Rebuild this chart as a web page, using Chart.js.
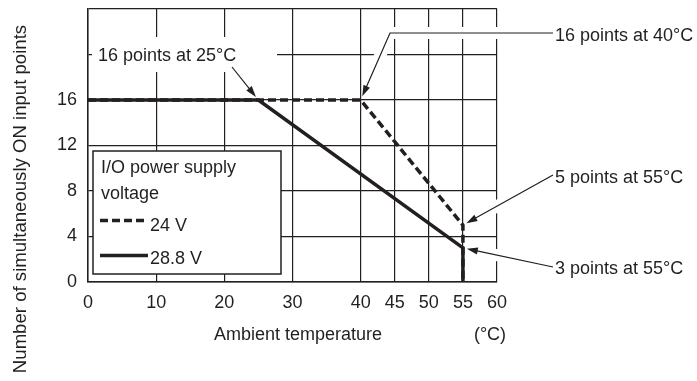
<!DOCTYPE html>
<html>
<head>
<meta charset="utf-8">
<script src="https://cdn.jsdelivr.net/npm/chart.js@4/dist/chart.umd.min.js"></script>
<style>
  html, body { margin: 0; padding: 0; background: #fff; }
  #wrap { width: 697px; height: 381px; }
</style>
</head>
<body>
<div id="wrap"><canvas id="myChart" width="697" height="381"></canvas></div>
<script>
// Derating curves: simultaneously ON input points vs ambient temperature
const temps24 = [0, 40, 55, 55];
const points24 = [16, 16, 5, 0];
const temps288 = [0, 25, 55, 55];
const points288 = [16, 16, 3, 0];

const xTicks = [0, 10, 20, 30, 40, 45, 50, 55, 60];
const yTicks = [0, 4, 8, 12, 16, 20, 24];
const yLabels = ['0', '4', '8', '12', '16', '', ''];

const INK = '#231f20';
const FAMILY = '"Liberation Sans", Arial, Helvetica, sans-serif';
const FONT = '18px ' + FAMILY;

const toXY = (xs, ys) => xs.map((v, i) => ({ x: v, y: ys[i] }));

// callout positions (label text + leader line), arrow tips come from the data
function callouts(chart) {
  const a = chart.chartArea;
  const tx = a.right + 58;
  const lx = a.right + 56;
  return [
    { text: '16 points at 25\u00b0C', tx: a.left + 10, ty: 61, path: [[232, 67]], at: [25, 16] },
    { text: '16 points at 40\u00b0C', tx: tx, ty: 41, path: [[lx, 33], [390, 33]], at: [40, 16] },
    { text: '5 points at 55\u00b0C', tx: tx, ty: 183, path: [[lx, 175]], at: [55, 5] },
    { text: '3 points at 55\u00b0C', tx: tx, ty: 274, path: [[lx, 267]], at: [55, 3] }
  ];
}

function tipOf(chart, c) {
  const { x, y } = chart.scales;
  const px = x.getPixelForValue(c.at[0]);
  const py = y.getPixelForValue(c.at[1]);
  const s = c.path[c.path.length - 1];
  const dx = px - s[0], dy = py - s[1];
  const len = Math.hypot(dx, dy);
  return { x: px - dx / len * 4, y: py - dy / len * 4, ux: dx / len, uy: dy / len };
}

const overlay = {
  id: 'overlay',
  beforeDatasetsDraw(chart) {
    const ctx = chart.ctx;
    const a = chart.chartArea;
    ctx.save();
    // white box behind the 25°C label
    ctx.fillStyle = '#fff';
    ctx.fillRect(a.left + 4, 37, 185, 35);

    callouts(chart).forEach(c => {
      const t = tipOf(chart, c);
      // halo that cuts the grid
      ctx.strokeStyle = '#fff';
      ctx.lineWidth = 12;
      ctx.lineCap = 'butt';
      ctx.beginPath();
      ctx.moveTo(c.path[0][0], c.path[0][1]);
      c.path.slice(1).forEach(p => ctx.lineTo(p[0], p[1]));
      ctx.lineTo(t.x - t.ux * 16, t.y - t.uy * 16);
      ctx.stroke();

      // leader line
      ctx.strokeStyle = INK;
      ctx.lineWidth = 1.2;
      ctx.beginPath();
      ctx.moveTo(c.path[0][0], c.path[0][1]);
      c.path.slice(1).forEach(p => ctx.lineTo(p[0], p[1]));
      ctx.lineTo(t.x - t.ux * 8, t.y - t.uy * 8);
      ctx.stroke();

      // arrow head
      const bx = t.x - t.ux * 11, by = t.y - t.uy * 11;
      ctx.fillStyle = INK;
      ctx.beginPath();
      ctx.moveTo(t.x, t.y);
      ctx.lineTo(bx - t.uy * 3.5, by + t.ux * 3.5);
      ctx.lineTo(bx + t.uy * 3.5, by - t.ux * 3.5);
      ctx.closePath();
      ctx.fill();
    });
    ctx.restore();
  },
  afterDraw(chart) {
    const ctx = chart.ctx;
    const a = chart.chartArea;
    ctx.save();
    ctx.fillStyle = INK;
    ctx.font = FONT;
    ctx.textBaseline = 'alphabetic';
    ctx.textAlign = 'left';

    callouts(chart).forEach(c => ctx.fillText(c.text, c.tx, c.ty));

    // axis titles
    ctx.textAlign = 'center';
    ctx.fillText('Ambient temperature', 298, 340);
    ctx.fillText('(\u00b0C)', 490, 340);
    ctx.save();
    ctx.font = '18.6px ' + FAMILY;
    ctx.translate(26, 199);
    ctx.rotate(-Math.PI / 2);
    ctx.fillText('Number of simultaneously ON input points', 0, 0);
    ctx.restore();

    // legend box
    const lx = a.left + 5, ly = 151, lw = 188, lh = 123;
    ctx.fillStyle = '#fff';
    ctx.fillRect(lx, ly, lw, lh);
    ctx.strokeStyle = INK;
    ctx.lineWidth = 1.5;
    ctx.strokeRect(lx, ly, lw, lh);

    ctx.fillStyle = INK;
    ctx.textAlign = 'left';
    ctx.fillText('I/O power supply', lx + 8, 173);
    ctx.fillText('voltage', lx + 8, 199);
    ctx.fillText('24 V', lx + 57, 231);
    ctx.fillText('28.8 V', lx + 57, 264);

    ctx.lineWidth = 3.5;
    ctx.lineCap = 'butt';
    ctx.setLineDash([8, 4]);
    ctx.beginPath();
    ctx.moveTo(lx + 7, 220.5);
    ctx.lineTo(lx + 55, 220.5);
    ctx.stroke();
    ctx.setLineDash([]);
    ctx.beginPath();
    ctx.moveTo(lx + 7, 255.5);
    ctx.lineTo(lx + 55, 255.5);
    ctx.stroke();
    ctx.restore();
  }
};

const ctx = document.getElementById('myChart');
// eslint-disable-next-line no-unused-vars
const myChart = new Chart(ctx, {
  type: 'line',
  data: {
    datasets: [{
      label: '28.8 V',
      data: toXY(temps288, points288),
      borderColor: INK,
      borderWidth: 3.5,
      borderJoinStyle: 'miter',
      pointRadius: 0,
      tension: 0,
      clip: false
    }, {
      label: '24 V',
      data: toXY(temps24, points24),
      borderColor: INK,
      borderWidth: 3.5,
      borderDash: [8, 4],
      borderJoinStyle: 'miter',
      pointRadius: 0,
      tension: 0,
      clip: false
    }]
  },
  options: {
    responsive: false,
    animation: false,
    events: [],
    layout: { padding: { left: 0, right: 200, top: 9, bottom: 0 } },
    plugins: {
      legend: { display: false },
      tooltip: { enabled: false }
    },
    scales: {
      x: {
        type: 'linear',
        min: 0,
        max: 60,
        afterBuildTicks: (scale) => { scale.ticks = xTicks.map(v => ({ value: v })) },
        afterFit: (scale) => {
          scale.height = 99
          scale.paddingLeft = 0
          scale.paddingRight = 0
        },
        grid: { color: INK, lineWidth: 1.2, drawTicks: false },
        border: { color: INK, width: 1.5 },
        ticks: {
          color: INK,
          font: { family: FAMILY, size: 18 },
          padding: 10,
          maxRotation: 0,
          autoSkip: false
        }
      },
      y: {
        type: 'linear',
        min: 0,
        max: 24,
        afterBuildTicks: (scale) => { scale.ticks = yTicks.map(v => ({ value: v })) },
        afterFit: (scale) => {
          scale.width = 88
          scale.paddingTop = 0
          scale.paddingBottom = 0
        },
        grid: { color: INK, lineWidth: 1.2, drawTicks: false },
        border: { color: INK, width: 1.5 },
        ticks: {
          color: INK,
          font: { family: FAMILY, size: 18 },
          padding: 11,
          callback: function(value) {
            return yLabels[yTicks.indexOf(value)];
          }
        }
      }
    }
  },
  plugins: [overlay]
})
</script>
</body>
</html>
